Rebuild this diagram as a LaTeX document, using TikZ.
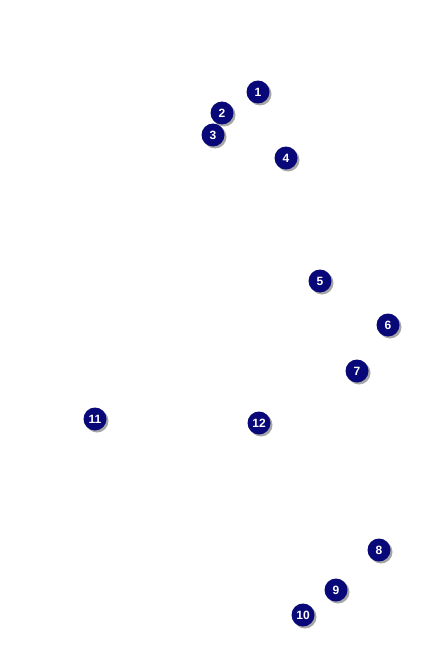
\documentclass[tikz,border=0pt]{standalone}
\usepackage{fontspec}
\setmainfont{Liberation Sans}
\usetikzlibrary{shadows}
\definecolor{navy}{RGB}{8,8,120}
\tikzset{
  marker/.style={circle,fill=navy,minimum size=23pt,inner sep=0pt,
    text=white,font=\fontsize{12}{14}\selectfont\bfseries,
    drop shadow={shadow xshift=2pt,shadow yshift=-2pt,fill=gray,opacity=0.7}}
}
\begin{document}
\begin{tikzpicture}[x=1pt,y=-1pt]
  % plocha obrazku 425 x 650
  \useasboundingbox (0,0) rectangle (425,650);
  % ocislovane body
  \foreach \n/\px/\py in {1/258/92,2/222/113,3/213/135,4/286/158,5/320/281,
      6/388/325,7/357/371,8/379/550,9/336/590,10/303/615,11/95/419,12/259/423}
    \node[marker] (m\n) at (\px,\py) {\n};
\end{tikzpicture}
\end{document}
